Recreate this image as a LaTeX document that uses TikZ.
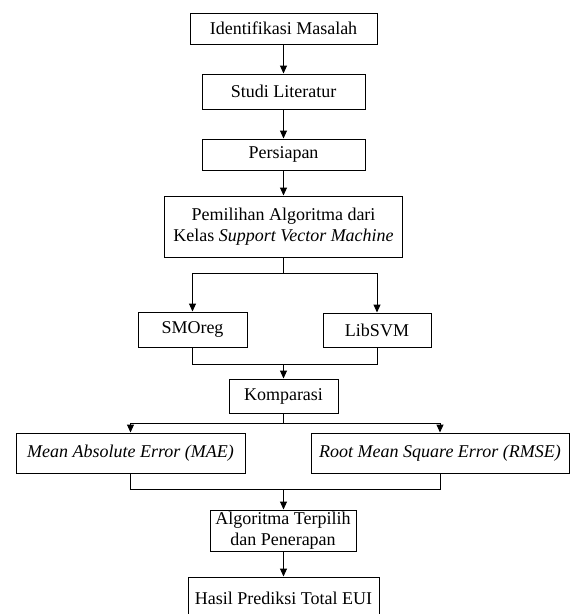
\documentclass[tikz,border=0pt]{standalone}
\usepackage{fontspec}
\setmainfont{Liberation Serif}
\usetikzlibrary{arrows.meta}
\begin{document}
\begin{tikzpicture}[x=1pt,y=-1pt,
  box/.style={draw=black,line width=1pt,inner sep=0pt,align=center,font=\fontsize{18}{20.5}\selectfont},
  conn/.style={draw=black,line width=1pt},
  arr/.style={conn,-{Triangle[length=8pt,width=7pt]}}]
\useasboundingbox (0,0) rectangle (571,614);
\node[box,minimum width=187pt,minimum height=31pt] (b1) at (283.5,28.5) {Identifikasi Masalah};
\node[box,minimum width=163pt,minimum height=35pt] (b2) at (283.5,91.5) {Studi Literatur};
\node[box,minimum width=163pt,minimum height=31pt] (b3) at (283.5,154.5) {Persiapan};
\node[box,minimum width=238pt,minimum height=61pt] (b4) at (283.5,226.5) {Pemilihan Algoritma dari\\Kelas \textit{Support Vector Machine}};
\node[box,minimum width=109pt,minimum height=35pt] (smo) at (192.5,329.5) {SMOreg};
\node[box,minimum width=108pt,minimum height=34pt] (lib) at (377,330) {LibSVM};
\node[box,minimum width=109pt,minimum height=34pt] (komp) at (283.5,396) {Komparasi};
\node[box,minimum width=229pt,minimum height=40pt] (mae) at (130.5,453) {\textit{Mean Absolute Error (MAE)}};
\node[box,minimum width=258pt,minimum height=40pt] (rmse) at (440,453) {\textit{Root Mean Square Error (RMSE)}};
\node[box,minimum width=146pt,minimum height=41pt] (alg) at (283,530.5) {Algoritma Terpilih\\dan Penerapan};
\node[box,minimum width=191pt,minimum height=42pt] (hasil) at (283.5,598) {Hasil Prediksi Total EUI};
\draw[arr] (b1) -- (b2);
\draw[arr] (b2) -- (b3);
\draw[arr] (b3) -- (b4);
\coordinate (j1) at (283.5,273);
\draw[conn] (b4.south) -- (j1);
\draw[arr] (j1) -| (smo.north);
\draw[arr] (j1) -| (lib.north);
\coordinate (j2) at (283.5,364);
\draw[conn] (smo.south) |- (j2);
\draw[conn] (lib.south) |- (j2);
\draw[arr] (j2) -- (komp.north);
\coordinate (j3) at (283.5,423);
\draw[conn] (komp.south) -- (j3);
\draw[arr] (j3) -| (mae.north);
\draw[arr] (j3) -| (rmse.north);
\coordinate (j4) at (283.5,489);
\draw[conn] (mae.south) |- (j4);
\draw[conn] (rmse.south) |- (j4);
\draw[arr] (j4) -- (alg.north -| j4);
\draw[arr] (alg.south -| j4) -- (hasil.north -| j4);
\end{tikzpicture}
\end{document}
